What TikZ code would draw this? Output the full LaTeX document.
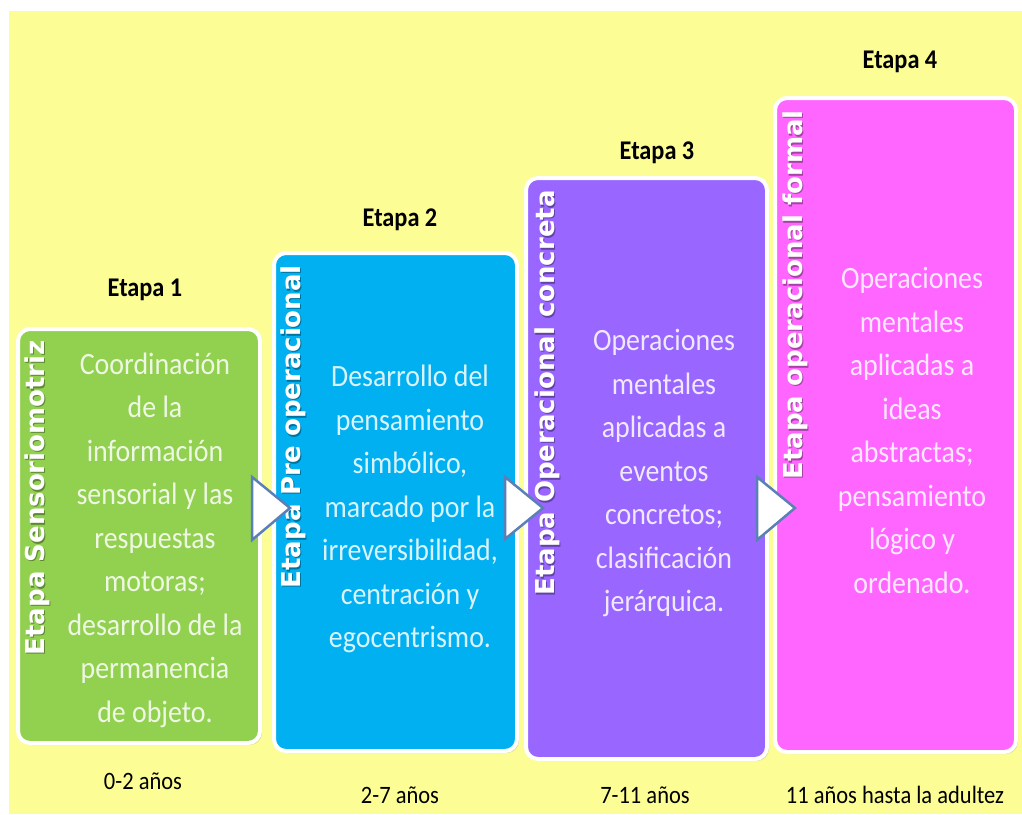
\documentclass[tikz,border=0pt]{standalone}
\usepackage{fontspec}
\setmainfont{Carlito}[FakeStretch=0.9]
\newfontfamily\rotfont{DejaVu Sans}
\usetikzlibrary{shadows}
\definecolor{bgyellow}{HTML}{FDFD96}
\definecolor{cgreen}{HTML}{92D050}
\definecolor{ccyan}{HTML}{00B0F0}
\definecolor{cpurple}{HTML}{9966FF}
\definecolor{cmagenta}{HTML}{FF66FF}
\definecolor{arrowblue}{HTML}{5B80B8}
\tikzset{
  stage/.style={draw=white, line width=4pt, rounded corners=12pt,
    drop shadow={opacity=0.25, shadow xshift=2pt, shadow yshift=-2pt},
    inner sep=0pt},
  stagetitle/.style={font=\fontsize{27}{30}\selectfont\bfseries, text=black},
  agelabel/.style={font=\fontsize{25}{28}\selectfont, text=black},
  sidetitle/.style={font=\rotfont\bfseries\fontsize{26}{30}\selectfont, text=white,
    rotate=90, anchor=east, inner sep=0pt},
  sideshadow/.style={sidetitle, text=black, text opacity=0.35},
  bodytext/.style={font=\fontsize{31}{43.5}\selectfont, text=white, text opacity=0.85,
    align=center, inner sep=0pt},
  arrowtri/.style={draw=arrowblue, line width=2.5pt, fill=white, line join=miter}
}
\begin{document}
\begin{tikzpicture}[x=1pt,y=-1pt]
\useasboundingbox (0,0) rectangle (1022,814);
\fill[bgyellow] (9,11) rectangle (1022,814);

% boxes
\node[stage, fill=cgreen, minimum width=242pt, minimum height=414pt] (b1) at (139,536) {};
\node[stage, fill=ccyan, minimum width=243pt, minimum height=498pt] (b2) at (395.5,502) {};
\node[stage, fill=cpurple, minimum width=241pt, minimum height=581pt] (b3) at (646.5,468.5) {};
\node[stage, fill=cmagenta, minimum width=241pt, minimum height=654pt] (b4) at (895.5,425) {};

% side titles (with soft shadow)
\node[sideshadow] (h1) at (38.5,341.5) {Etapa Sensoriomotriz};
\node[sideshadow] (h2) at (294.5,266.5) {Etapa Pre operacional};
\node[sideshadow] (h3) at (548.5,191.5) {Etapa Operacional concreta};
\node[sideshadow] (h4) at (796.5,111.5) {Etapa operacional formal};
\node[sidetitle] (s1) at (37,340) {Etapa Sensoriomotriz};
\node[sidetitle] (s2) at (293,265) {Etapa Pre operacional};
\node[sidetitle] (s3) at (547,190) {Etapa Operacional concreta};
\node[sidetitle] (s4) at (795,110) {Etapa operacional formal};

% body texts
\node[bodytext] (t1) at (155,540) {Coordinación\\de la\\información\\sensorial y las\\respuestas\\motoras;\\desarrollo de la\\permanencia\\de objeto.};
\node[bodytext] (t2) at (410,509) {Desarrollo del\\pensamiento\\simbólico,\\marcado por la\\irreversibilidad,\\centración y\\egocentrismo.};
\node[bodytext] (t3) at (664,473) {Operaciones\\mentales\\aplicadas a\\eventos\\concretos;\\clasificación\\jerárquica.};
\node[bodytext] (t4) at (912,430.5) {Operaciones\\mentales\\aplicadas a\\ideas\\abstractas;\\pensamiento\\lógico y\\ordenado.};

% arrows
\draw[arrowtri] (252,477) -- (290,508) -- (252,540) -- cycle;
\draw[arrowtri] (505,477) -- (543,508) -- (505,539) -- cycle;
\draw[arrowtri] (757,477) -- (795,508) -- (757,540) -- cycle;

% stage titles
\node[stagetitle] (e1) at (145,290) {Etapa 1};
\node[stagetitle] (e2) at (400,220) {Etapa 2};
\node[stagetitle] (e3) at (657,153) {Etapa 3};
\node[stagetitle] (e4) at (900,62) {Etapa 4};

% ages
\node[agelabel] (a1) at (143,781) {0-2 años};
\node[agelabel] (a2) at (400,795) {2-7 años};
\node[agelabel] (a3) at (645,795) {7-11 años};
\node[agelabel] (a4) at (895,795) {11 años hasta la adultez};
\end{tikzpicture}
\end{document}
